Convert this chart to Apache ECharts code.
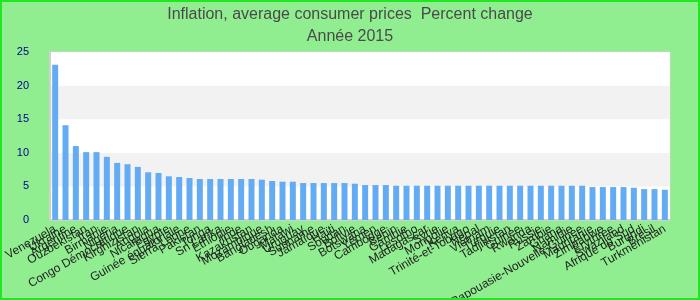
<!DOCTYPE html>
<html>
<head>
<meta charset="utf-8">
<script src="https://cdn.jsdelivr.net/npm/echarts@6/dist/echarts.min.js"></script>
<style>html,body{margin:0;padding:0;background:#90ee90;}#c{width:700px;height:300px;}</style>
</head>
<body>
<div id="c"></div>
<script>
var categories = ["Venezuela","Ukraine","Argentine","Ouzbékistan","Iran","Birmanie","Nigeria","Congo Démocratique","Kirghizistan","Angola","Nicaragua","Égypte","Guinée équatoriale","Sierra Leone","Pakistan","Tonga","Sri Lanka","Ethiopie","Inde","Kazakhstan","Mozambique","Bangladesh","Ouganda","Malawi","Uruguay","Suriname","Jamaïque","Haïti","Soudan","Bolivie","Botswana","Yémen","Cambodge","Bénin","Gambie","Lesotho","Madagascar","Syrie","Mongolie","Kenya","Trinité-et-Tobago","Népal","Vietnam","Turquie","Tadjikistan","Guinée","Rwanda","Russie","Zambie","Ghana","Namibie","Papouasie-Nouvelle-Guinée","Mauritanie","Zimbabwe","Érythrée","Swaziland","Afrique du Sud","Burundi","Brésil","Turkménistan"];
var values = [23.1,14.1,11.0,10.1,10.1,9.4,8.5,8.3,7.9,7.1,7.0,6.5,6.4,6.25,6.1,6.1,6.1,6.1,6.1,6.1,6.0,5.8,5.7,5.7,5.5,5.5,5.5,5.5,5.5,5.4,5.2,5.2,5.2,5.1,5.1,5.1,5.1,5.1,5.1,5.1,5.1,5.1,5.1,5.1,5.1,5.1,5.1,5.1,5.1,5.1,5.1,5.1,4.9,4.9,4.9,4.9,4.8,4.6,4.6,4.5];
var titleText = "Inflation, average consumer prices  Percent change";
var subtitleText = "Année 2015";

var chart = echarts.init(document.getElementById('c'));
chart.setOption({
  backgroundColor: '#90ee90',
  animation: false,
  title: {
    text: titleText,
    subtext: subtitleText,
    left: 'center',
    top: 2,
    itemGap: 6,
    textStyle: {fontFamily: 'Liberation Sans Narrow, Liberation Sans, Arial', fontSize: 16, fontWeight: 'normal', color: '#4a4a4a'},
    subtextStyle: {fontFamily: 'Liberation Sans Narrow, Liberation Sans, Arial', fontSize: 16, color: '#4a4a4a'}
  },
  graphic: [{
    type: 'rect', silent: true, z: 100,
    shape: {x: 1, y: 1, width: 698, height: 298},
    style: {fill: 'none', stroke: '#22e622', lineWidth: 2}
  }],
  grid: {left: 50, right: 30, top: 52, bottom: 80, containLabel: false, outerBoundsMode: 'none', show: true, backgroundColor: '#ffffff', borderColor: '#d0d0d0', borderWidth: 1},
  xAxis: {
    type: 'category',
    data: categories,
    axisLine: {show: true, lineStyle: {color: '#d0d0d0', width: 2}},
    axisTick: {show: false},
    axisLabel: {interval: 0, rotate: 30, fontSize: 12, color: '#222', fontFamily: 'Liberation Sans, Arial', margin: 8}
  },
  yAxis: {
    type: 'value',
    min: 0, max: 25, interval: 5,
    axisLine: {show: true, lineStyle: {color: '#d0d0d0', width: 2}},
    axisTick: {show: false},
    splitLine: {show: false},
    splitArea: {show: true, areaStyle: {color: ['#ffffff', '#f2f2f2']}},
    axisLabel: {fontSize: 11, color: '#00008b', fontFamily: 'Liberation Sans, Arial', margin: 21}
  },
  series: [{
    type: 'bar',
    data: values,
    barWidth: 6,
    itemStyle: {color: '#63acf3'}
  }]
});
</script>
</body>
</html>
